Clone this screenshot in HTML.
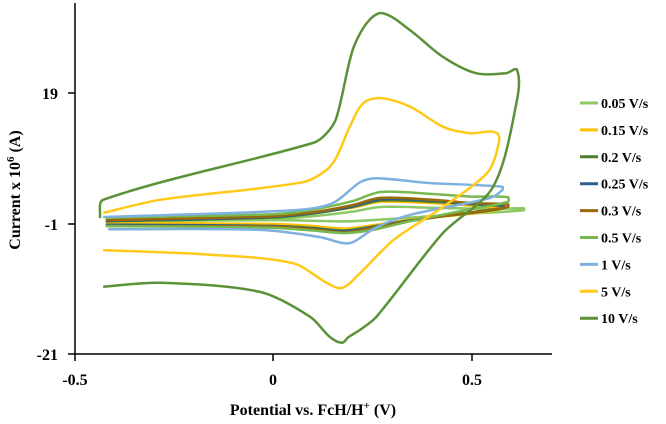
<!DOCTYPE html>
<html><head><meta charset="utf-8"><style>
body{margin:0;background:#fff}
svg{display:block;font-family:"Liberation Serif",serif;font-weight:bold}
</style></head><body>
<svg width="666" height="424">
<g id="plot"></g>
<g>
<line x1="75" y1="3" x2="75" y2="355" stroke="#000" stroke-width="1.5"/>
<line x1="68" y1="93" x2="75" y2="93" stroke="#000" stroke-width="1.5"/>
<line x1="68" y1="224" x2="75" y2="224" stroke="#000" stroke-width="1.5"/>
<line x1="68" y1="354" x2="75" y2="354" stroke="#000" stroke-width="1.5"/>
<text x="58" y="99" text-anchor="end" font-size="16">19</text>
<text x="58" y="230" text-anchor="end" font-size="16">-1</text>
<text x="58" y="360" text-anchor="end" font-size="16">-21</text>
</g>
<g>
<line x1="75" y1="354" x2="552" y2="354" stroke="#000" stroke-width="1.5"/>
<line x1="75" y1="354" x2="75" y2="361" stroke="#000" stroke-width="1.5"/>
<line x1="273" y1="354" x2="273" y2="361" stroke="#000" stroke-width="1.5"/>
<line x1="472" y1="354" x2="472" y2="361" stroke="#000" stroke-width="1.5"/>
<text x="75" y="385" text-anchor="middle" font-size="16">-0.5</text>
<text x="273" y="385" text-anchor="middle" font-size="16">0</text>
<text x="472" y="385" text-anchor="middle" font-size="16">0.5</text>
</g>
<text x="313" y="415" text-anchor="middle" font-size="16">Potential vs. FcH/H<tspan font-size="11" dy="-6">+</tspan><tspan dy="6"> (V)</tspan></text>
<text transform="translate(20,190) rotate(-90)" text-anchor="middle" font-size="16">Current x 10<tspan font-size="11" dy="-6">6</tspan><tspan dy="6"> (A)</tspan></text>
<g id="legend"></g>
</svg>
<script>
const seriesNames=["0.05 V/s","0.15 V/s","0.2 V/s","0.25 V/s","0.3 V/s","0.5 V/s","1 V/s","5 V/s","10 V/s"];
const seriesColors=["#8CC865","#FFC000","#4E7F2E","#2E5F8F","#9A6A08","#78B850","#7EB0E0","#FFC91A","#5A9238"];
const v005=[-0.42,0.0,0.1,0.2,0.27,0.4,0.55,0.63,0.63,0.5,0.35,0.25,0.18,0.1,0.0,-0.42];
const i005=[-0.6,-0.2,0.2,0.9,1.6,1.5,1.3,1.4,1.1,0.6,0.0,-0.4,-0.6,-0.5,-0.4,-0.6];
const v015=[-0.42,0.0,0.1,0.2,0.27,0.4,0.5,0.57,0.57,0.5,0.35,0.25,0.18,0.1,0.0,-0.42];
const i015=[-0.3,0.2,0.7,1.5,2.4,2.2,1.8,1.5,1.2,0.6,-0.3,-1.2,-1.7,-1.3,-1.0,-0.8];
const v02=[-0.42,0.0,0.1,0.2,0.27,0.4,0.5,0.58,0.58,0.5,0.35,0.25,0.18,0.1,0.0,-0.42];
const i02=[-0.6,0.0,0.6,1.6,2.6,2.4,2.0,1.7,1.4,0.7,-0.4,-1.4,-2.0,-1.6,-1.3,-1.2];
const v025=v02;
const i025=[-0.5,0.1,0.7,1.7,2.8,2.6,2.1,1.8,1.5,0.8,-0.4,-1.5,-2.1,-1.7,-1.3,-1.1];
const v03=[-0.42,0.0,0.1,0.2,0.27,0.4,0.5,0.59,0.59,0.5,0.35,0.25,0.18,0.1,0.0,-0.42];
const i03=[-0.4,0.2,0.8,1.9,3.0,2.7,2.2,2.0,1.6,0.8,-0.5,-1.6,-2.3,-1.8,-1.4,-1.3];
const v05=v03;
const i05=[0.0,0.5,1.2,2.5,3.9,3.6,3.2,3.1,2.4,1.3,-0.5,-1.9,-2.4,-2.0,-1.6,-1.3];
const v1=[-0.427,0.05,0.15,0.219,0.26,0.387,0.576,0.576,0.546,0.344,0.26,0.2,0.173,0.118,-0.033,-0.414];
const i1=[0.07,1.1,2.2,5.4,6.0,5.3,4.7,4.2,3.0,0.4,-1.5,-3.8,-3.9,-3.0,-1.9,-1.8];
const v5=[-0.427,-0.284,0.075,0.135,0.16,0.193,0.227,0.269,0.344,0.427,0.495,0.563,0.563,0.538,0.427,0.302,0.219,0.173,0.135,0.05,-0.158,-0.427];
const i5=[0.7,2.7,5.4,7.3,9.3,13.9,17.5,18.3,17.0,13.9,12.9,12.9,10.3,6.8,1.6,-3.5,-8.5,-10.8,-10.0,-7.0,-5.7,-5.0];
const v10=[-0.435,-0.427,0.10,0.135,0.16,0.2,0.236,0.274,0.344,0.427,0.51,0.586,0.613,0.613,0.553,0.427,0.26,0.219,0.19,0.173,0.143,0.093,-0.033,-0.284,-0.427];
const i10=[-0.1,2.7,11.4,12.9,15.4,25.6,29.8,31.3,28.7,24.6,22.1,22.1,22.6,18.0,4.7,-2.4,-15.2,-17.2,-18.3,-19.2,-18.3,-15.2,-11.4,-10.0,-10.6];
const xs=[v005,v015,v02,v025,v03,v05,v1,v5,v10];
const ys=[i005,i015,i02,i025,i03,i05,i1,i5,i10];
function X(v){return 273+v*398;}
function Y(i){return 224-(i+1)*6.53;}
const NS="http://www.w3.org/2000/svg";
function unit(a,b){const dx=b[0]-a[0],dy=b[1]-a[1];const l=Math.hypot(dx,dy)||1;return [dx/l,dy/l];}
function pathFor(vx,vy){
  const p=vx.map((v,k)=>[X(v),Y(vy[k])]);
  let d="M"+p[0][0].toFixed(1)+","+p[0][1].toFixed(1);
  for(let k=0;k<p.length-1;k++){
    const p0=p[Math.max(k-1,0)],p1=p[k],p2=p[k+1],p3=p[Math.min(k+2,p.length-1)];
    const L=Math.hypot(p2[0]-p1[0],p2[1]-p1[1])*0.3;
    const d1=unit(p0,p2),d2=unit(p1,p3);
    const c1=[p1[0]+d1[0]*L,p1[1]+d1[1]*L];
    const c2=[p2[0]-d2[0]*L,p2[1]-d2[1]*L];
    d+=" C"+c1.map(n=>n.toFixed(1)).join(",")+" "+c2.map(n=>n.toFixed(1)).join(",")+" "+p2.map(n=>n.toFixed(1)).join(",");
  }
  return d;
}
const plot=document.getElementById("plot");
const legend=document.getElementById("legend");
for(let s=0;s<seriesNames.length;s++){
  const path=document.createElementNS(NS,"path");
  path.setAttribute("d",pathFor(xs[s],ys[s]));
  path.setAttribute("fill","none");
  path.setAttribute("stroke",seriesColors[s]);
  path.setAttribute("stroke-width","2.5");
  path.setAttribute("stroke-linejoin","round");
  
  
  plot.appendChild(path);
  const ly=103+s*26.9;
  const g=document.createElementNS(NS,"g");
  
  
  const ln=document.createElementNS(NS,"line");
  ln.setAttribute("x1",580);ln.setAttribute("x2",598);
  ln.setAttribute("y1",ly);ln.setAttribute("y2",ly);
  ln.setAttribute("stroke",seriesColors[s]);ln.setAttribute("stroke-width","3");
  g.appendChild(ln);
  const tx=document.createElementNS(NS,"text");
  tx.setAttribute("x",601);tx.setAttribute("y",ly+5);
  tx.setAttribute("font-size","14");
  tx.textContent=seriesNames[s];
  g.appendChild(tx);
  legend.appendChild(g);
}
</script>
</body></html>
